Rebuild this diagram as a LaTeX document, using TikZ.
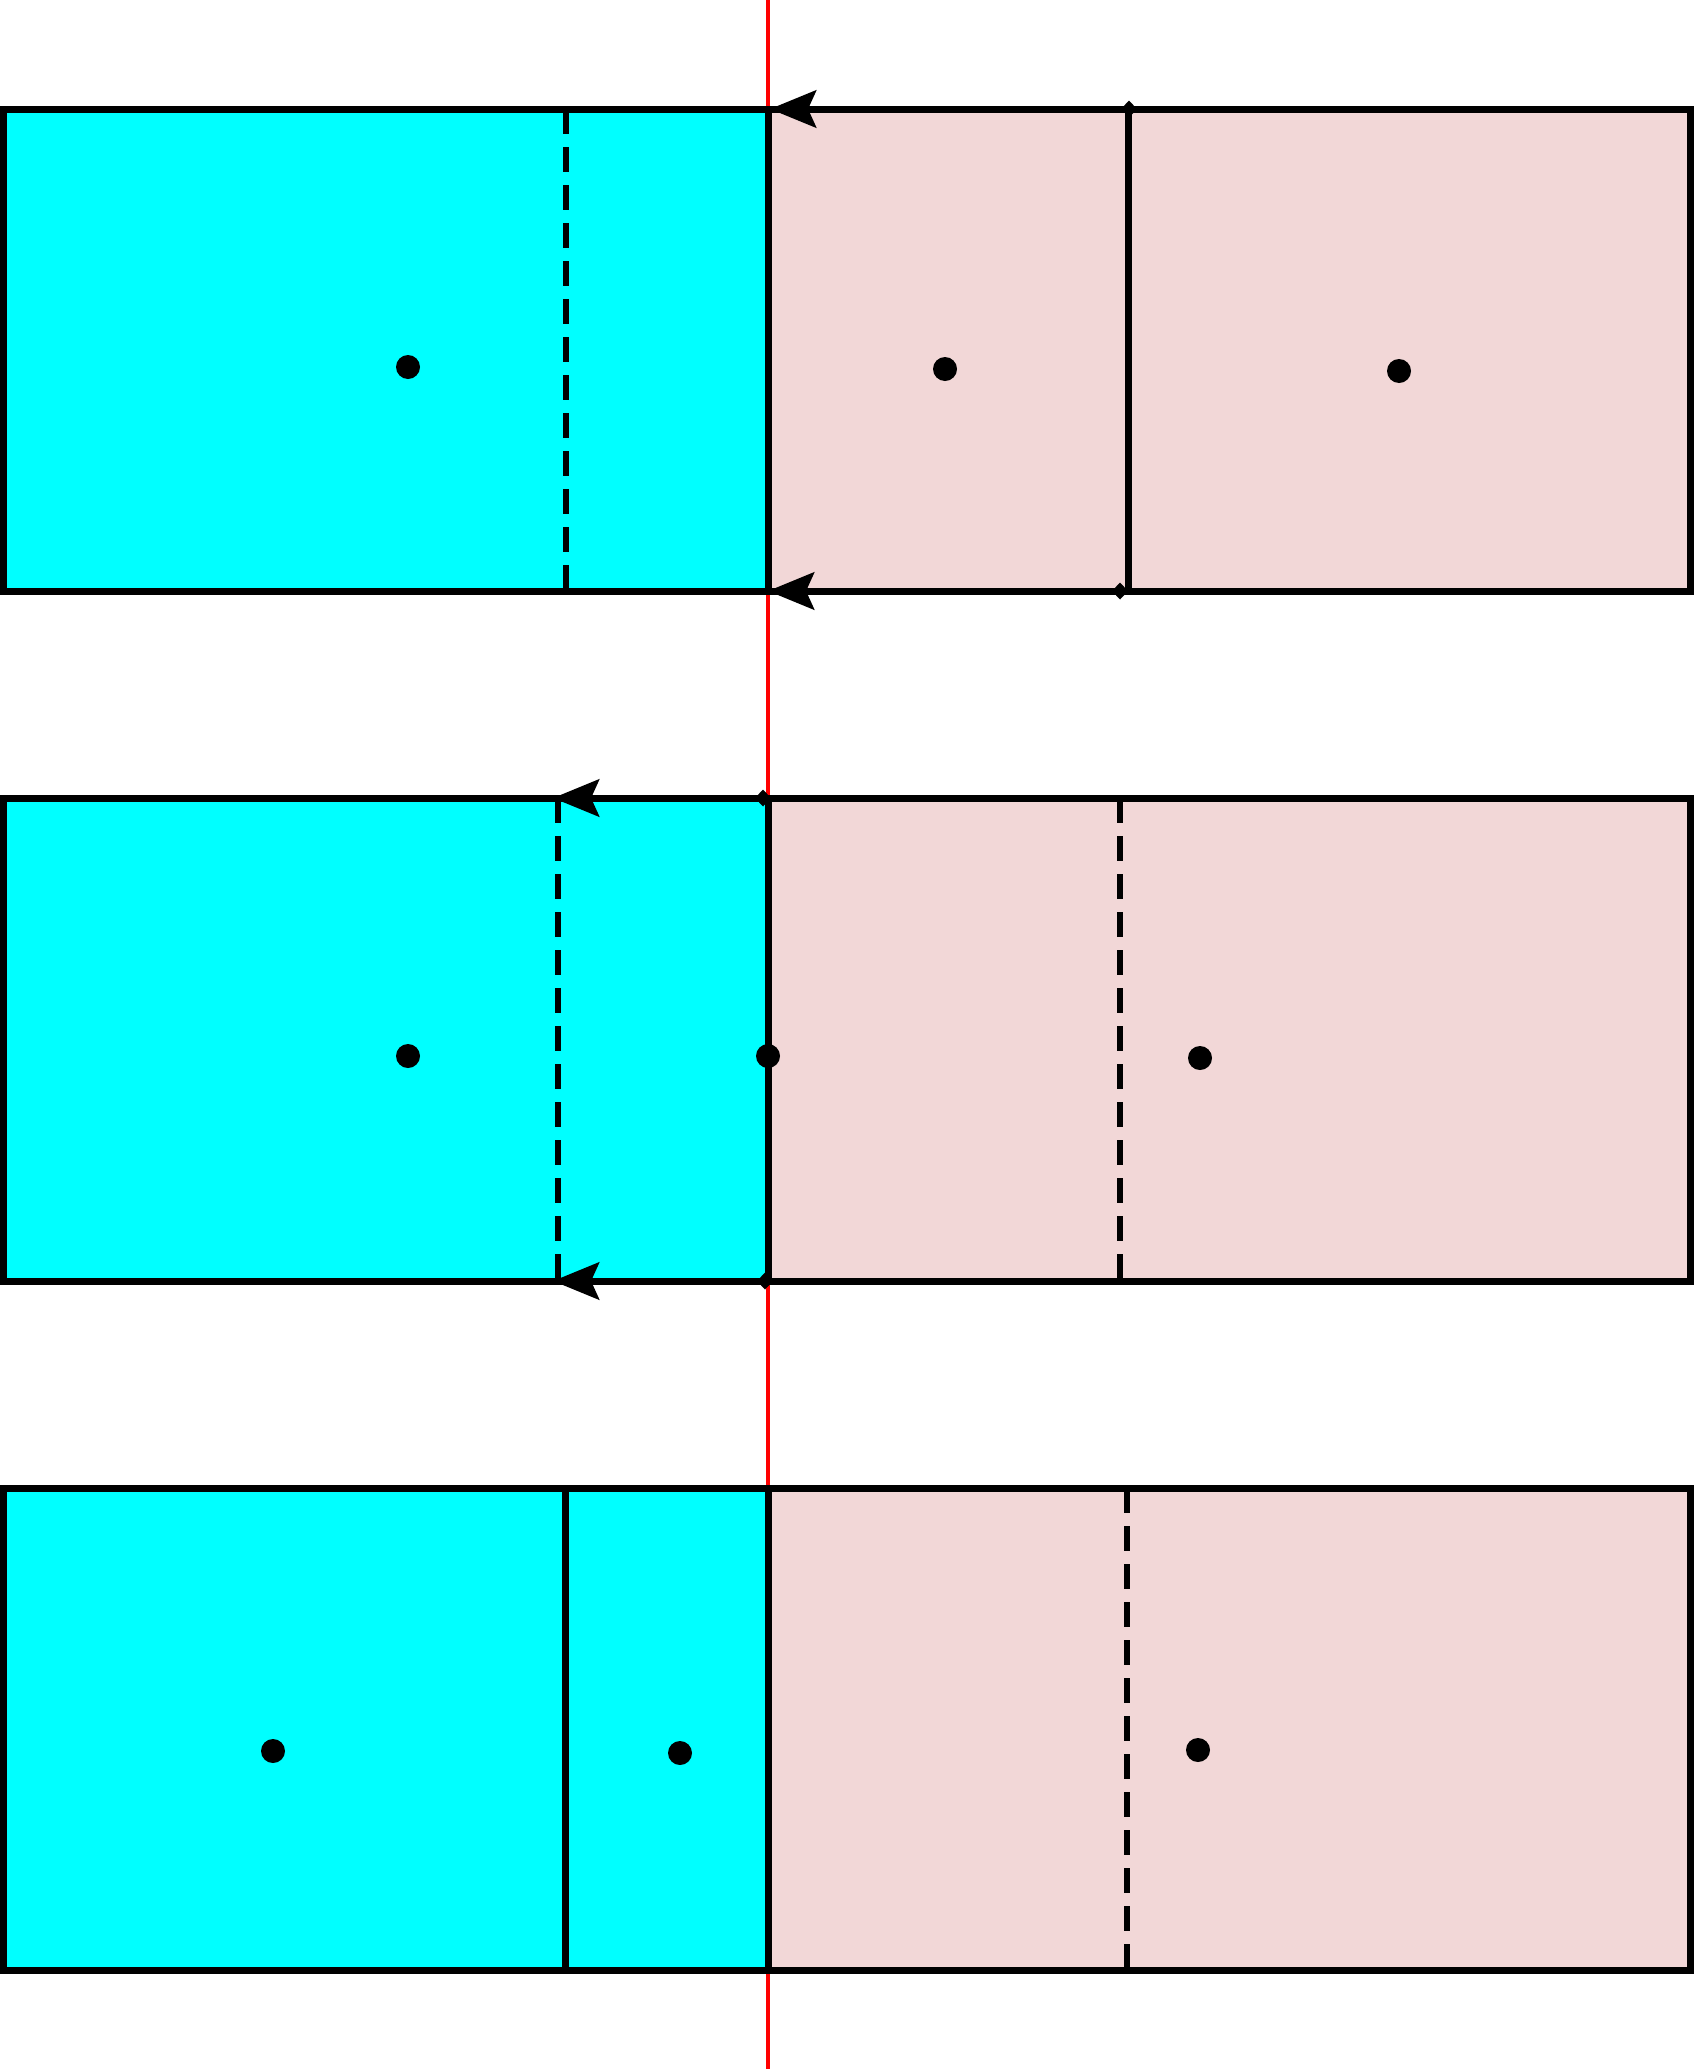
\documentclass[tikz,border=0pt]{standalone}
\usetikzlibrary{arrows.meta}
\definecolor{cy}{RGB}{0,255,255}
\definecolor{pk}{RGB}{242,215,215}
\begin{document}
\begin{tikzpicture}[x=1pt,y=-1pt,
  edge/.style={line width=7pt, line join=miter},
  dsh/.style={line width=6pt, dash pattern=on 25pt off 13pt},
  dot/.style={circle, fill=black, inner sep=0pt, minimum size=24pt},
  flow/.style={line width=7pt, {Diamond[length=16pt,width=17pt]}-{Stealth[length=46pt,width=37pt,inset=8pt]}},
  redline/.style={red, line width=4.5pt}]
\useasboundingbox (0,0) rectangle (1696,2069);
% fills
\fill[cy] (3,109) rectangle (768,591);
\fill[pk] (768,109) rectangle (1690,591);
\fill[cy] (3,798) rectangle (768,1281);
\fill[pk] (768,798) rectangle (1690,1281);
\fill[cy] (3,1488) rectangle (768,1970);
\fill[pk] (768,1488) rectangle (1690,1970);
% red axis
\draw[redline] (768,0) -- (768,2069);
% row 1
\draw[edge] (3,109) rectangle (1690,591);
\draw[edge] (768,109) -- (768,591);
\draw[edge] (1128,109) -- (1128,591);
\draw[dsh] (566,109) -- (566,591);
% row 2
\draw[edge] (3,798) rectangle (1690,1281);
\draw[edge] (768,798) -- (768,1281);
\draw[dsh] (558,798) -- (558,1281);
\draw[dsh] (1120,798) -- (1120,1281);
% row 3
\draw[edge] (3,1488) rectangle (1690,1970);
\draw[edge] (768,1488) -- (768,1970);
\draw[edge] (565,1488) -- (565,1970);
\draw[dsh] (1127,1488) -- (1127,1970);
% arrows
\coordinate (a1s) at (1137,109);
\coordinate (a1e) at (770,109);
\coordinate (b1s) at (1128,591);
\coordinate (b1e) at (768,591);
\coordinate (a2s) at (771,798);
\coordinate (a2e) at (553,798);
\coordinate (b2s) at (773,1281);
\coordinate (b2e) at (553,1281);
\draw[flow] (a1s) -- (a1e);
\draw[flow] (b1s) -- (b1e);
\draw[flow] (a2s) -- (a2e);
\draw[flow] (b2s) -- (b2e);
% dots
\node[dot] (p11) at (408,367) {};
\node[dot] (p12) at (945,369) {};
\node[dot] (p13) at (1399,371) {};
\node[dot] (p21) at (408,1056) {};
\node[dot] (p22) at (768,1056) {};
\node[dot] (p23) at (1200,1058) {};
\node[dot] (p31) at (273,1751) {};
\node[dot] (p32) at (680,1753) {};
\node[dot] (p33) at (1198,1750) {};
\end{tikzpicture}
\end{document}
